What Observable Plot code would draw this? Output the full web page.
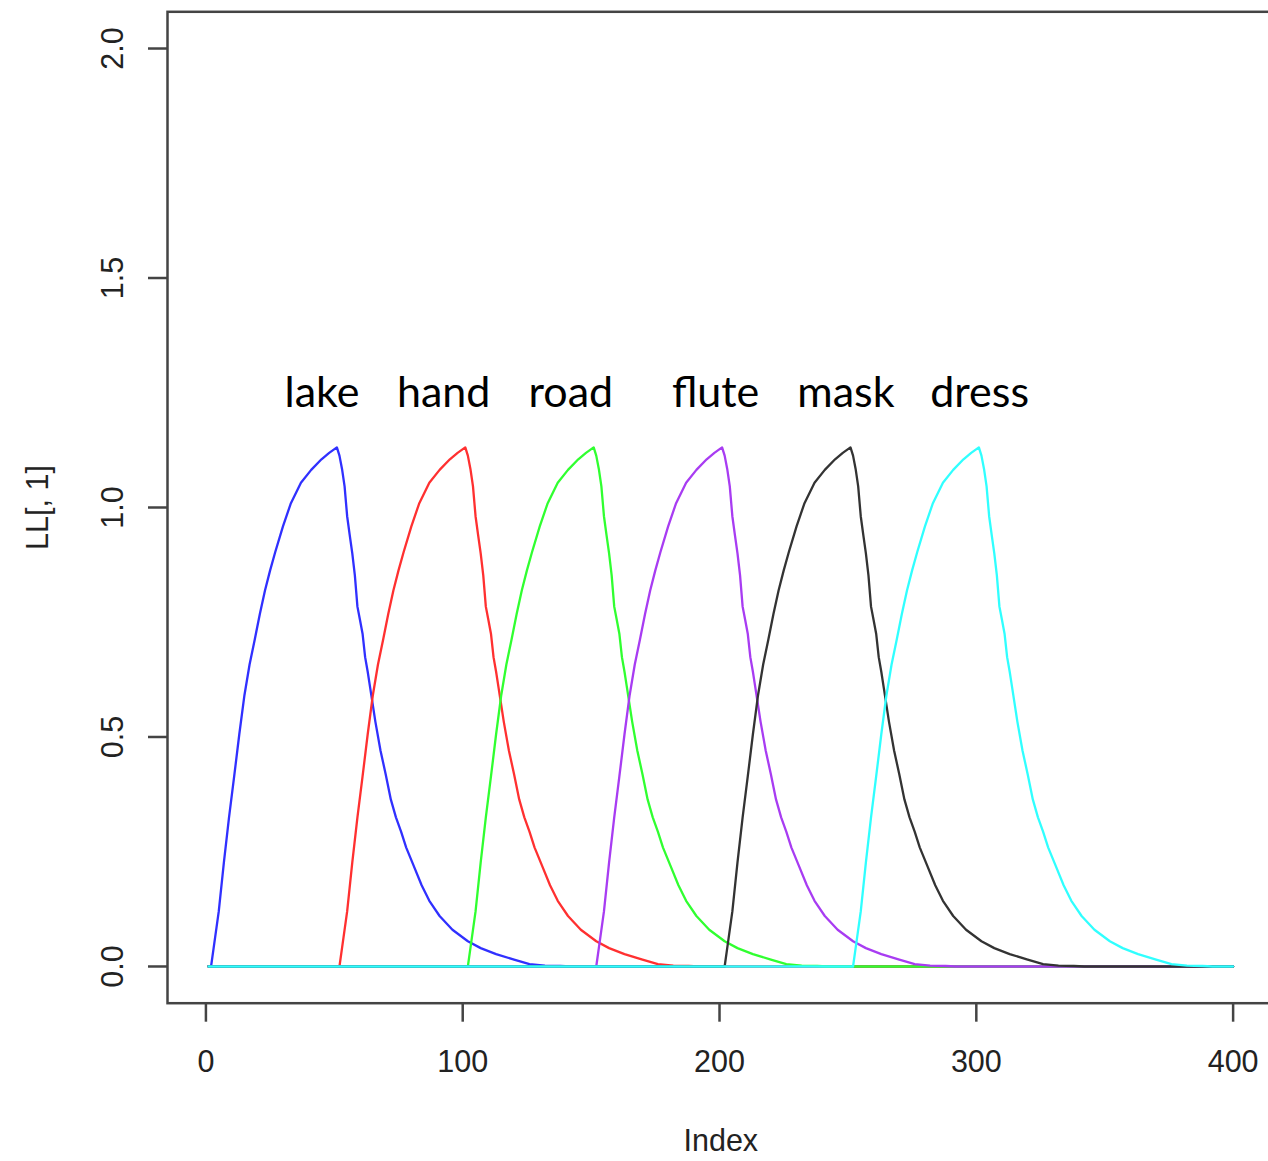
<!DOCTYPE html>
<html>
<head>
<meta charset="utf-8">
<script src="https://cdn.jsdelivr.net/npm/d3@7"></script>
<script src="https://cdn.jsdelivr.net/npm/@observablehq/plot@0.6"></script>
<style>
  html, body { margin: 0; padding: 0; background: white; }
  #chart svg { display: block; overflow: hidden; }
</style>
</head>
<body>
<div id="chart"></div>
<script>
// ---- data ----
const words  = ["lake", "hand", "road", "flute", "mask", "dress"];
const colors = ["#3030ff", "#ff3030", "#30ff30", "#a83cf2", "#333333", "#30ffff"];
const xTicks = [0, 100, 200, 300, 400];
const yTicks = [0, 0.5, 1, 1.5, 2];
const xLabel = "Index";
const yLabel = "LL[, 1]";

const lakeIdx = [1, 2,3,5,7,9,11,13,15,17,19,21,23,25,27,30,33,37,41,45,48,51,52,53,54,55,56,57,58,59,60,61,62,63,64,66,68,70,72,74,76,78,81,84,87,91,96,102,107,113,120,126,132,138,142, 400];
const lakeVal = [0, 0,0.04,0.12,0.227,0.325,0.414,0.506,0.591,0.658,0.712,0.768,0.819,0.863,0.903,0.959,1.008,1.054,1.082,1.105,1.119,1.131,1.113,1.084,1.046,0.981,0.94,0.90,0.852,0.784,0.755,0.725,0.674,0.642,0.606,0.533,0.470,0.419,0.364,0.325,0.294,0.259,0.218,0.177,0.143,0.110,0.080,0.055,0.040,0.027,0.015,0.005,0.002,0.001,0, 0];

const handIdx = [1, 52,53,55,57,59,61,63,65,67,69,71,73,75,77,80,83,87,91,95,98,101,102,103,104,105,106,107,108,109,110,111,112,113,114,116,118,120,122,124,126,128,131,134,137,141,146,152,157,163,170,176,182,188,192, 400];
const handVal = [0, 0,0.04,0.12,0.227,0.325,0.414,0.506,0.591,0.658,0.712,0.768,0.819,0.863,0.903,0.959,1.008,1.054,1.082,1.105,1.119,1.131,1.113,1.084,1.046,0.981,0.94,0.90,0.852,0.784,0.755,0.725,0.674,0.642,0.606,0.533,0.470,0.419,0.364,0.325,0.294,0.259,0.218,0.177,0.143,0.110,0.080,0.055,0.040,0.027,0.015,0.005,0.002,0.001,0, 0];

const roadIdx = [1, 102,103,105,107,109,111,113,115,117,119,121,123,125,127,130,133,137,141,145,148,151,152,153,154,155,156,157,158,159,160,161,162,163,164,166,168,170,172,174,176,178,181,184,187,191,196,202,207,213,220,226,232,238,242, 400];
const roadVal = [0, 0,0.04,0.12,0.227,0.325,0.414,0.506,0.591,0.658,0.712,0.768,0.819,0.863,0.903,0.959,1.008,1.054,1.082,1.105,1.119,1.131,1.113,1.084,1.046,0.981,0.94,0.90,0.852,0.784,0.755,0.725,0.674,0.642,0.606,0.533,0.470,0.419,0.364,0.325,0.294,0.259,0.218,0.177,0.143,0.110,0.080,0.055,0.040,0.027,0.015,0.005,0.002,0.001,0, 0];

const fluteIdx = [1, 152,153,155,157,159,161,163,165,167,169,171,173,175,177,180,183,187,191,195,198,201,202,203,204,205,206,207,208,209,210,211,212,213,214,216,218,220,222,224,226,228,231,234,237,241,246,252,257,263,270,276,282,288,292, 400];
const fluteVal = [0, 0,0.04,0.12,0.227,0.325,0.414,0.506,0.591,0.658,0.712,0.768,0.819,0.863,0.903,0.959,1.008,1.054,1.082,1.105,1.119,1.131,1.113,1.084,1.046,0.981,0.94,0.90,0.852,0.784,0.755,0.725,0.674,0.642,0.606,0.533,0.470,0.419,0.364,0.325,0.294,0.259,0.218,0.177,0.143,0.110,0.080,0.055,0.040,0.027,0.015,0.005,0.002,0.001,0, 0];

const maskIdx = [1, 202,203,205,207,209,211,213,215,217,219,221,223,225,227,230,233,237,241,245,248,251,252,253,254,255,256,257,258,259,260,261,262,263,264,266,268,270,272,274,276,278,281,284,287,291,296,302,307,313,320,326,332,338,342, 400];
const maskVal = [0, 0,0.04,0.12,0.227,0.325,0.414,0.506,0.591,0.658,0.712,0.768,0.819,0.863,0.903,0.959,1.008,1.054,1.082,1.105,1.119,1.131,1.113,1.084,1.046,0.981,0.94,0.90,0.852,0.784,0.755,0.725,0.674,0.642,0.606,0.533,0.470,0.419,0.364,0.325,0.294,0.259,0.218,0.177,0.143,0.110,0.080,0.055,0.040,0.027,0.015,0.005,0.002,0.001,0, 0];

const dressIdx = [1, 252,253,255,257,259,261,263,265,267,269,271,273,275,277,280,283,287,291,295,298,301,302,303,304,305,306,307,308,309,310,311,312,313,314,316,318,320,322,324,326,328,331,334,337,341,346,352,357,363,370,376,382,388,392, 400];
const dressVal = [0, 0,0.04,0.12,0.227,0.325,0.414,0.506,0.591,0.658,0.712,0.768,0.819,0.863,0.903,0.959,1.008,1.054,1.082,1.105,1.119,1.131,1.113,1.084,1.046,0.981,0.94,0.90,0.852,0.784,0.755,0.725,0.674,0.642,0.606,0.533,0.470,0.419,0.364,0.325,0.294,0.259,0.218,0.177,0.143,0.110,0.080,0.055,0.040,0.027,0.015,0.005,0.002,0.001,0, 0];

// ---- build a long table for the library ----
const seriesIdx = [lakeIdx, handIdx, roadIdx, fluteIdx, maskIdx, dressIdx];
const seriesVal = [lakeVal, handVal, roadVal, fluteVal, maskVal, dressVal];
const rows = words.flatMap((w, k) =>
  seriesIdx[k].map((x, i) => ({word: w, index: x, value: seriesVal[k][i]}))
);

// annotation anchors (in data units) for the word labels
const labelIndex = [45.2, 92.6, 142.1, 198.5, 249.2, 301.3];
const labelLevel = 1.218;

const axisColor = "#444";
const textColor = "#222";

const chart = Plot.plot({
  width: 1268,
  height: 1161,
  marginLeft: 167,
  marginRight: -5.6,
  marginTop: 11.3,
  marginBottom: 158.3,
  x: {domain: [-14.96, 415.96]},
  y: {domain: [-0.08, 2.08]},
  color: {domain: words, range: colors},
  style: {
    fontFamily: "'Liberation Sans', Arial, sans-serif",
    fontSize: "30.5px",
    color: textColor,
    background: "white",
    overflow: "hidden"
  },
  marks: [
    Plot.line(rows, {x: "index", y: "value", z: "word", stroke: "word", strokeWidth: 2.3, curve: "linear"}),
    Plot.frame({stroke: axisColor, strokeWidth: 2.5}),
    Plot.axisX(xTicks, {
      tickSize: 19, tickPadding: 28, stroke: axisColor, strokeWidth: 2.5,
      label: null, tickFormat: d3.format("d"), fill: textColor
    }),
    // y tick marks
    Plot.axisY(yTicks, {
      tickSize: 19, stroke: axisColor, strokeWidth: 2.5,
      label: null, tickFormat: () => ""
    }),
    // y tick labels (rotated, parallel to axis)
    Plot.text(yTicks, {
      y: d => d, frameAnchor: "left", dx: -45, rotate: -90,
      text: d3.format(".1f"), textAnchor: "middle", lineAnchor: "bottom", fill: textColor
    }),
    Plot.text([xLabel], {frameAnchor: "bottom", dy: 148, lineAnchor: "bottom", text: d => d, fill: textColor}),
    Plot.text([yLabel], {frameAnchor: "left", dx: -120, rotate: -90, lineAnchor: "bottom", textAnchor: "middle", text: d => d, fill: textColor}),
    Plot.text(words, {
      x: labelIndex, y: () => labelLevel, text: d => d,
      fontFamily: "Lato, 'Open Sans', sans-serif", fontSize: 43, fill: "black",
      lineAnchor: "bottom", textAnchor: "middle"
    })
  ]
});

document.getElementById("chart").appendChild(chart);
</script>
</body>
</html>
